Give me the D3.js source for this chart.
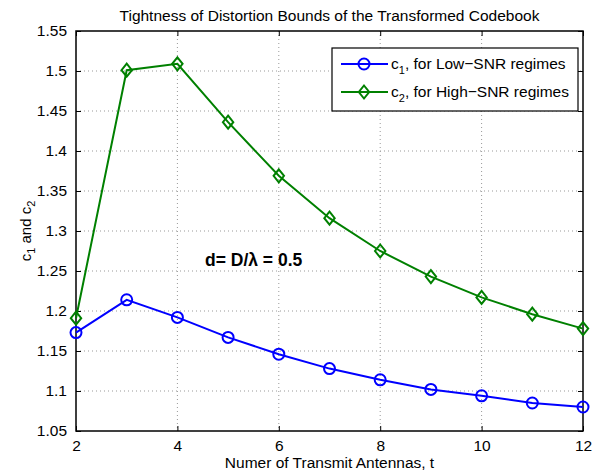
<!DOCTYPE html>
<meta charset="utf-8">
<style>
    body { margin: 0; background: white; }
    text { font-family: "Liberation Sans", Arial, sans-serif; fill: black; }
    .grid line { stroke: #999; stroke-width: 1; stroke-dasharray: 1,3; }
</style>
<body>
<script src="https://d3js.org/d3.v7.min.js"></script>
<script>
    var width = 596,
        height = 473;

    // data
    var antennas = [2, 3, 4, 5, 6, 7, 8, 9, 10, 11, 12];
    var c1 = [1.173, 1.214, 1.192, 1.167, 1.146, 1.128, 1.114, 1.102, 1.094, 1.085, 1.080];
    var c2 = [1.191, 1.501, 1.509, 1.436, 1.369, 1.316, 1.275, 1.243, 1.217, 1.196, 1.178];
    var xTicks = [2, 4, 6, 8, 10, 12];
    var yTicks = [1.05, 1.1, 1.15, 1.2, 1.25, 1.3, 1.35, 1.4, 1.45, 1.5, 1.55];

    var series = [
        {sub: "1", label: ", for Low\u2212SNR regimes", values: c1, color: "#0000ff", marker: "circle"},
        {sub: "2", label: ", for High\u2212SNR regimes", values: c2, color: "#008000", marker: "diamond"}
    ];

    // plot box (named so they don't clash with window.top)
    var pLeft = 76, pRight = 583, pTop = 31, pBottom = 431;

    var x = d3.scaleLinear().domain([2, 12]).range([pLeft, pRight]);
    var y = d3.scaleLinear().domain([1.05, 1.55]).range([pBottom, pTop]);

    var svg = d3.select("body").append("svg")
        .attr("width", width)
        .attr("height", height);

    // grid
    var grid = svg.append("g").attr("class", "grid");
    grid.selectAll(".gx").data(xTicks.slice(1, -1)).enter().append("line")
        .attr("x1", d => x(d)).attr("x2", d => x(d))
        .attr("y1", pTop).attr("y2", pBottom);
    grid.selectAll(".gy").data(yTicks.slice(1, -1)).enter().append("line")
        .attr("x1", pLeft).attr("x2", pRight)
        .attr("y1", d => y(d)).attr("y2", d => y(d));

    // axes, matlab style: ticks point inwards on all four sides
    svg.append("g")
        .attr("transform", "translate(0," + pBottom + ")")
        .call(d3.axisBottom(x).tickValues(xTicks).tickSizeInner(-5).tickSizeOuter(0).tickPadding(9))
        .call(g => g.select(".domain").remove());
    svg.append("g")
        .attr("transform", "translate(0," + pTop + ")")
        .call(d3.axisTop(x).tickValues(xTicks).tickSizeInner(-5).tickSizeOuter(0).tickFormat(""))
        .call(g => g.select(".domain").remove());
    svg.append("g")
        .attr("transform", "translate(" + pLeft + ",0)")
        .call(d3.axisLeft(y).tickValues(yTicks).tickSizeInner(-5).tickSizeOuter(0).tickPadding(9)
            .tickFormat(d => String(+d.toFixed(2))))
        .call(g => g.select(".domain").remove());
    svg.append("g")
        .attr("transform", "translate(" + pRight + ",0)")
        .call(d3.axisRight(y).tickValues(yTicks).tickSizeInner(-5).tickSizeOuter(0).tickFormat(""))
        .call(g => g.select(".domain").remove());

    svg.selectAll(".tick text").style("font-size", "15.5px").style("font-family", "Liberation Sans, Arial, sans-serif");
    svg.selectAll(".tick line").attr("stroke", "black");

    svg.append("rect")
        .attr("x", pLeft).attr("y", pTop)
        .attr("width", pRight - pLeft).attr("height", pBottom - pTop)
        .attr("fill", "none").attr("stroke", "black").attr("stroke-width", 1.5);

    // lines + markers
    var line = d3.line()
        .x((d, i) => x(antennas[i]))
        .y(d => y(d));

    function drawMarker(sel, type, color, cx, cy) {
        if (type === "circle") {
            sel.append("circle").attr("cx", cx).attr("cy", cy).attr("r", 5.5)
                .attr("fill", "none").attr("stroke", color).attr("stroke-width", 2);
        } else {
            var s = 6.5;
            sel.append("path")
                .attr("d", "M" + cx + "," + (cy - s) + "L" + (cx + s * 0.8) + "," + cy + "L" + cx + "," + (cy + s) + "L" + (cx - s * 0.8) + "," + cy + "Z")
                .attr("fill", "none").attr("stroke", color).attr("stroke-width", 2);
        }
    }

    series.forEach(function(s) {
        var g = svg.append("g");
        g.append("path")
            .attr("d", line(s.values))
            .attr("fill", "none")
            .attr("stroke", s.color)
            .attr("stroke-width", 2);
        s.values.forEach(function(v, i) {
            drawMarker(g, s.marker, s.color, x(antennas[i]), y(v));
        });
    });

    // legend
    var lg = svg.append("g");
    lg.append("rect")
        .attr("x", 332).attr("y", 48)
        .attr("width", 246).attr("height", 63)
        .attr("fill", "white").attr("stroke", "black").attr("stroke-width", 1.2);
    series.forEach(function(s, i) {
        var ly = 64 + i * 28;
        lg.append("line").attr("x1", 341).attr("x2", 388).attr("y1", ly).attr("y2", ly)
            .attr("stroke", s.color).attr("stroke-width", 2);
        drawMarker(lg, s.marker, s.color, 364, ly);
        var t = lg.append("text").attr("x", 391).attr("y", ly + 5).style("font-size", "15.5px");
        t.append("tspan").text("c");
        t.append("tspan").attr("dy", 5).style("font-size", "11px").text(s.sub);
        t.append("tspan").attr("dy", -5).text(s.label);
    });

    // annotation
    svg.append("text")
        .attr("x", 205).attr("y", 266)
        .style("font-size", "17.5px").style("font-weight", "bold")
        .text("d= D/\u03bb = 0.5");

    // title and axis labels
    svg.append("text")
        .attr("x", (pLeft + pRight) / 2).attr("y", 21)
        .attr("text-anchor", "middle").style("font-size", "15.5px")
        .text("Tightness of Distortion Bounds of the Transformed Codebook");

    svg.append("text")
        .attr("x", (pLeft + pRight) / 2).attr("y", 468)
        .attr("text-anchor", "middle").style("font-size", "15.5px")
        .text("Numer of Transmit Antennas, t");

    var yl = svg.append("text")
        .attr("transform", "translate(31," + ((pTop + pBottom) / 2) + ") rotate(-90)")
        .attr("text-anchor", "middle").style("font-size", "15px");
    yl.append("tspan").text("c");
    yl.append("tspan").attr("dy", 4).style("font-size", "11px").text("1");
    yl.append("tspan").attr("dy", -4).text(" and c");
    yl.append("tspan").attr("dy", 4).style("font-size", "11px").text("2");
</script>
</body>
</html>
